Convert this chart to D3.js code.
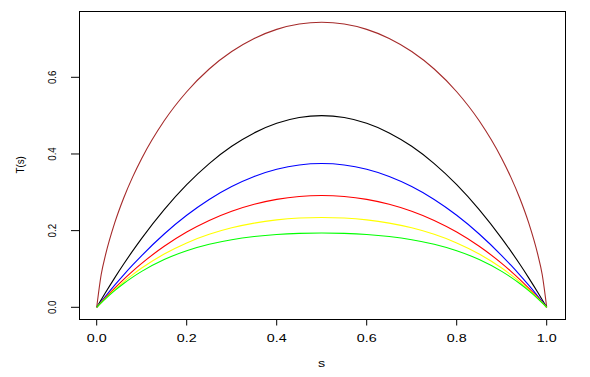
<!DOCTYPE html>
<html><head><meta charset="utf-8">
<script src="https://cdn.jsdelivr.net/npm/d3@7"></script>
<style>html,body{margin:0;padding:0;background:#fff;}svg{display:block;}text{font-family:"Liberation Sans",Arial,sans-serif;fill:#000;}</style>
</head><body>
<svg id="c" width="590" height="377"></svg>
<script>
const S = [0,0.01,0.02,0.04,0.06,0.08,0.1,0.15,0.2,0.25,0.3,0.35,0.4,0.45,0.5,0.55,0.6,0.65,0.7,0.75,0.8,0.85,0.9,0.92,0.94,0.96,0.98,0.99,1];
const brownT = [0,0.0856,0.1385,0.2201,0.2852,0.3402,0.3883,0.4865,0.5623,0.6216,0.6672,0.7013,0.7250,0.7389,0.7435,0.7389,0.7250,0.7013,0.6672,0.6216,0.5623,0.4865,0.3883,0.3402,0.2852,0.2201,0.1385,0.0856,0];
const blackT = [0,0.0198,0.0392,0.0768,0.1128,0.1472,0.18,0.255,0.32,0.375,0.42,0.455,0.48,0.495,0.5,0.495,0.48,0.455,0.42,0.375,0.32,0.255,0.18,0.1472,0.1128,0.0768,0.0392,0.0198,0];
const blueT = [0,0.01485,0.0294,0.0576,0.0846,0.1104,0.135,0.1913,0.24,0.2813,0.315,0.3413,0.36,0.3713,0.375,0.3713,0.36,0.3413,0.315,0.2813,0.24,0.1913,0.135,0.1104,0.0846,0.0576,0.0294,0.01485,0];
const redT = [0,0.01314,0.02588,0.05022,0.07308,0.09452,0.1146,0.1592,0.1963,0.2266,0.2506,0.2688,0.2816,0.2892,0.2917,0.2892,0.2816,0.2688,0.2506,0.2266,0.1963,0.1592,0.1146,0.09452,0.07308,0.05022,0.02588,0.01314,0];
const yellowT = [0,0.01225,0.02402,0.04616,0.06652,0.08523,0.1024,0.1391,0.168,0.1904,0.2074,0.2197,0.228,0.2328,0.2344,0.2328,0.228,0.2197,0.2074,0.1904,0.168,0.1391,0.1024,0.08523,0.06652,0.04616,0.02402,0.01225,0];
const greenT = [0,0.0117,0.02283,0.04345,0.06203,0.07873,0.09371,0.1246,0.1476,0.1644,0.1763,0.1845,0.1899,0.1928,0.1938,0.1928,0.1899,0.1845,0.1763,0.1644,0.1476,0.1246,0.09371,0.07873,0.06203,0.04345,0.02283,0.0117,0];
const seriesNames = ["brown","black","blue","red","yellow","green"];
const seriesColors = ["#A52A2A","#000000","#0000FF","#FF0000","#FFFF00","#00FF00"];
const seriesValues = [brownT, blackT, blueT, redT, yellowT, greenT];
const xTicks = [0,0.2,0.4,0.6,0.8,1.0];
const yTicks = [0,0.2,0.4,0.6];
const xLabel = "s", yLabel = "T(s)";

const svg = d3.select("#c");
const x = d3.scaleLinear().domain([0,1]).range([96.7,546.7]);
const yMax = d3.max(seriesValues.flat());
const y = d3.scaleLinear().domain([0,yMax]).range([307.3,22.3]);
const box = {l:x(-0.04), r:x(1.04), t:y(yMax*1.04), b:y(-yMax*0.04)};

const line = d3.line().x((d,i)=>x(S[i])).y(d=>y(d)).curve(d3.curveMonotoneX);
seriesValues.forEach((vals,k)=>{
  svg.append("path").attr("d", line(vals)).attr("fill","none")
    .attr("stroke", seriesColors[k]).attr("stroke-width",1.1);
});

svg.append("rect").attr("x",Math.round(box.l)+0.5).attr("y",Math.round(box.t)+0.5)
  .attr("width",Math.round(box.r-box.l)).attr("height",Math.round(box.b-box.t))
  .attr("fill","none").attr("stroke","#000").attr("stroke-width",1);

// x axis
const xa = svg.append("g").attr("transform",`translate(0,${Math.round(box.b)+0.5})`);
xa.append("line").attr("x1",x(0)).attr("x2",x(1)).attr("stroke","#000");
xTicks.forEach(t=>{
  xa.append("line").attr("x1",x(t)).attr("x2",x(t)).attr("y1",0).attr("y2",6).attr("stroke","#000");
  xa.append("text").attr("transform",`translate(${x(t)},22) scale(1.28,1)`).attr("text-anchor","middle")
    .attr("font-size","11.2px").text(d3.format(".1f")(t));
});
// y axis
const ya = svg.append("g").attr("transform",`translate(${Math.round(box.l)+0.5},0)`);
ya.append("line").attr("y1",y(0)).attr("y2",y(yTicks[yTicks.length-1])).attr("stroke","#000");
yTicks.forEach(t=>{
  ya.append("line").attr("y1",y(t)).attr("y2",y(t)).attr("x1",0).attr("x2",-8.5).attr("stroke","#000");
  ya.append("text").attr("transform",`translate(-23.5,${y(t)}) rotate(-90) scale(0.9,1)`).attr("text-anchor","middle")
    .attr("font-size","10.8px").text(d3.format(".1f")(t));
});
svg.append("text").attr("transform",`translate(${(box.l+box.r)/2},366.5) scale(1.28,1)`).attr("text-anchor","middle")
  .attr("font-size","11.2px").text(xLabel);
svg.append("text").attr("transform",`translate(24,${(box.t+box.b)/2}) rotate(-90) scale(0.9,1)`).attr("text-anchor","middle")
  .attr("font-size","10.8px").text(yLabel);
</script>
</body></html>
